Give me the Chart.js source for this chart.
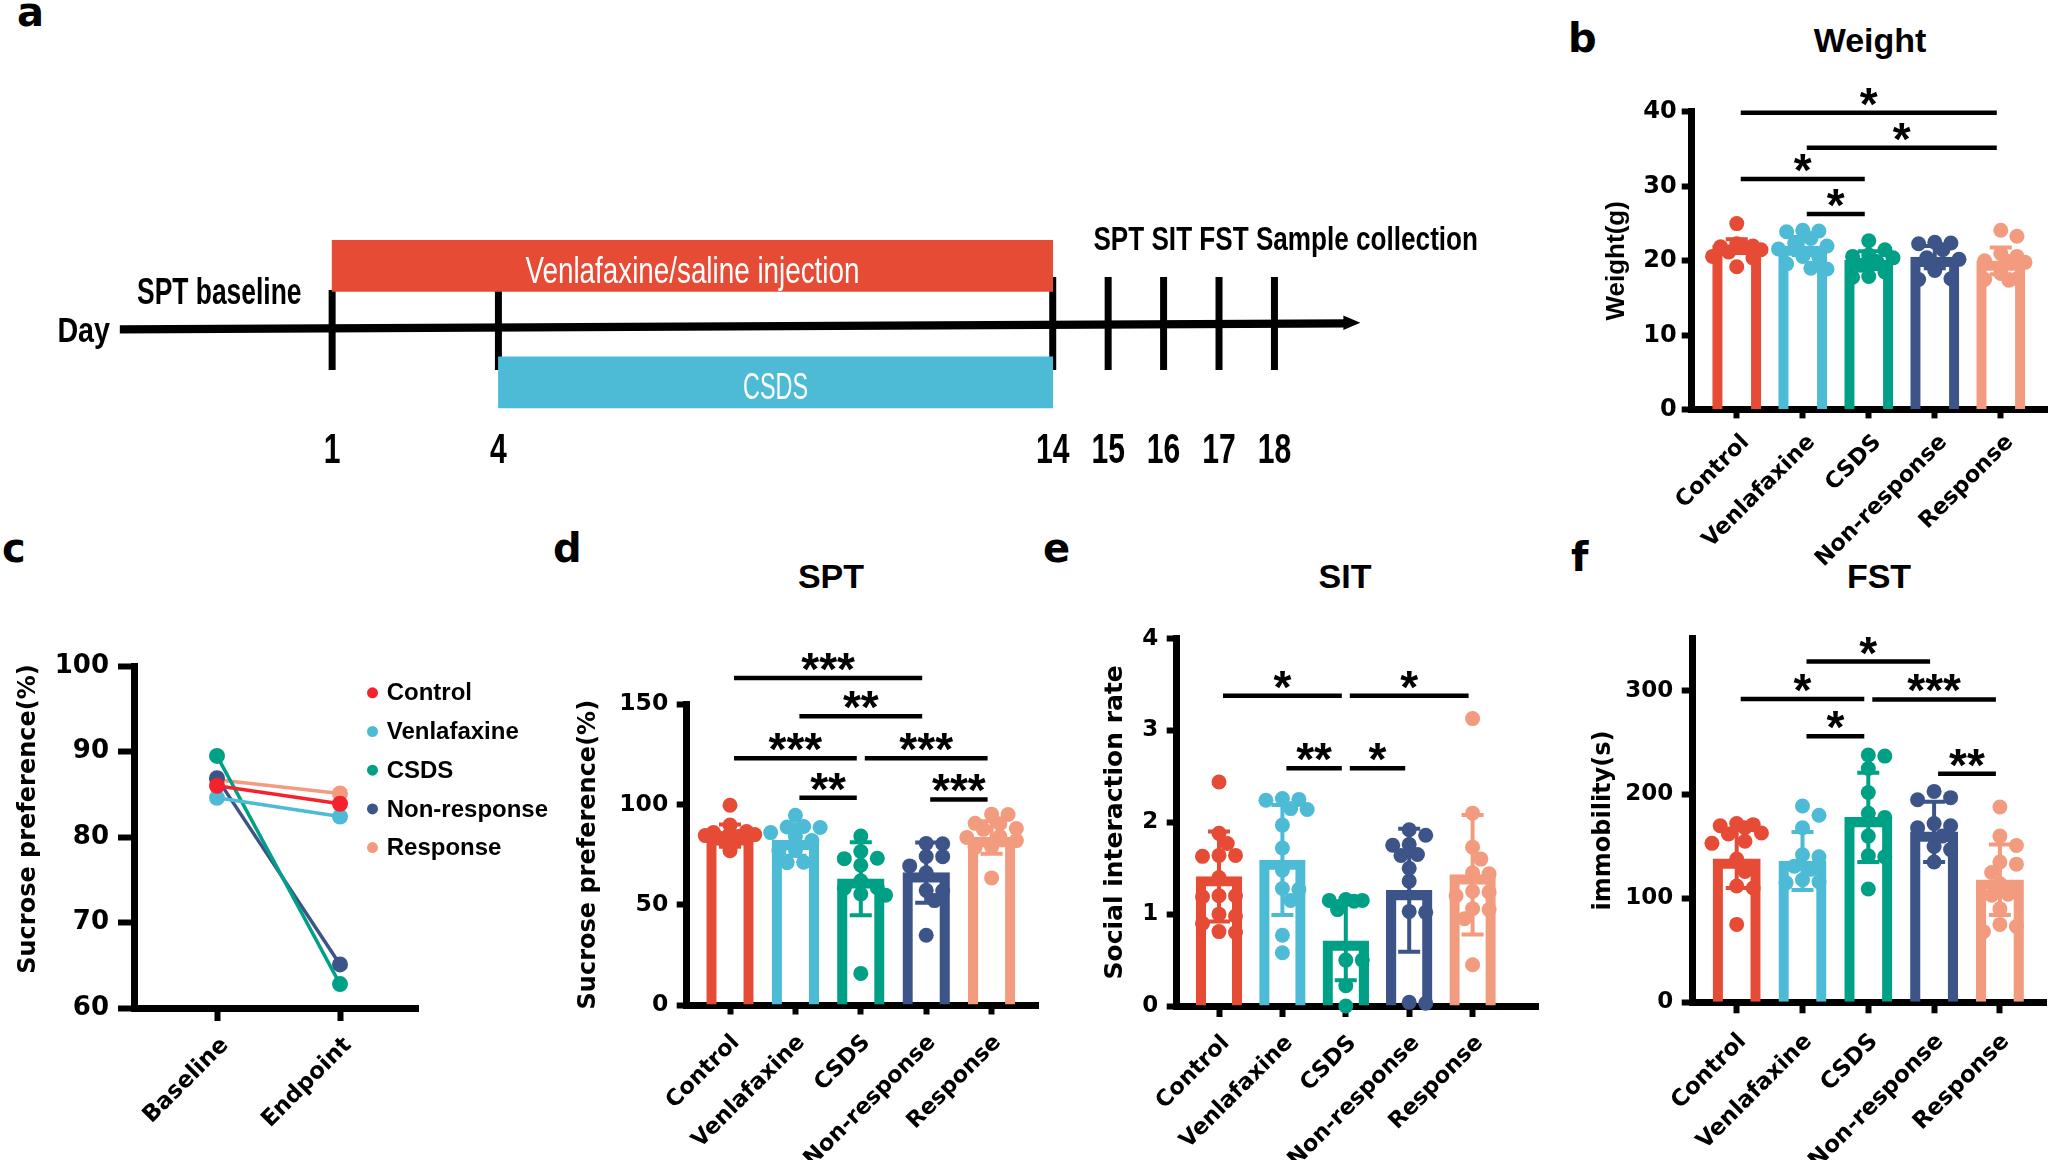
<!DOCTYPE html>
<html><head><meta charset="utf-8">
<script src="https://cdn.jsdelivr.net/npm/chart.js@4.4.1/dist/chart.umd.min.js"></script>
<style>
html,body{margin:0;padding:0;background:#fff;}
body{width:2055px;height:1162px;position:relative;overflow:hidden;}
canvas{position:absolute;}
.lbl{position:absolute;font-family:'DejaVu Sans',sans-serif;font-weight:bold;font-size:40px;line-height:1;white-space:nowrap;color:#000;}
.ttl{position:absolute;font-family:'Liberation Sans',Arial,sans-serif;font-weight:bold;font-size:34px;line-height:1;white-space:nowrap;color:#000;transform:translateX(-50%);}
</style></head>
<body>
<div class="lbl" style="left:17px;top:-8px">a</div>
<div class="lbl" style="left:1568px;top:18px">b</div>
<div class="lbl" style="left:2px;top:528px">c</div>
<div class="lbl" style="left:553px;top:528px">d</div>
<div class="lbl" style="left:1043px;top:528px">e</div>
<div class="lbl" style="left:1571px;top:537px">f</div>
<div class="ttl" style="left:1870px;top:23px">Weight</div>
<div class="ttl" style="left:831px;top:559px">SPT</div>
<div class="ttl" style="left:1345px;top:559px">SIT</div>
<div class="ttl" style="left:1879px;top:559px">FST</div>
<canvas id="ca"></canvas><canvas id="cb"></canvas><canvas id="cc"></canvas>
<canvas id="cd"></canvas><canvas id="ce"></canvas><canvas id="cf"></canvas>
<script>
// ================= DATA =================
const groups = ['Control', 'Venlafaxine', 'CSDS', 'Non-response', 'Response'];

// panel a : timeline (days)
const phases = ['Venlafaxine/saline injection', 'CSDS'];
const phaseStart = [1, 4];
const phaseEnd = [14, 14];
const dayTicks = [1, 4, 14, 15, 16, 17, 18];
const axisDays = [-2.83, 19.55];
const timelineNotes = ['Day', 'SPT baseline', 'SPT SIT FST Sample collection'];

// panel b : Weight
const weightMean = [22.1, 22.0, 20.1, 20.5, 20.0];
const weightSD = [0.8, 1.2, 1.2, 1.5, 1.8];
const weightPts = [
  [25.0, 22.3, 22.0, 21.9, 21.8, 21.5, 21.2, 20.6, 20.4, 19.2],
  [24.1, 24.0, 23.9, 23.0, 22.4, 22.0, 21.6, 20.6, 20.5, 19.6, 19.0, 18.9],
  [22.7, 21.5, 20.8, 20.6, 20.4, 19.9, 19.4, 18.5, 17.9, 17.8],
  [22.5, 22.4, 22.3, 21.5, 20.4, 20.2, 18.7, 17.6, 17.5],
  [24.1, 23.3, 21.0, 20.6, 20.0, 19.9, 19.8, 18.3, 17.6, 17.5, 17.4]
];
const weightSig = [[0, 4, 39.9, '*'], [1, 4, 35.2, '*'], [0, 2, 31.0, '*'], [1, 2, 26.3, '*']];
const weightTicks = [0, 10, 20, 30, 40];

// panel c : sucrose preference baseline vs endpoint
const timePoints = ['Baseline', 'Endpoint'];
const spBaseline = [86.0, 84.6, 89.5, 86.9, 86.7];
const spEndpoint = [83.9, 82.4, 62.8, 65.1, 85.1];
const spLineTicks = [60, 70, 80, 90, 100];

// panel d : SPT
const sptMean = [84.5, 82.2, 63.0, 66.0, 83.6];
const sptSD = [5.5, 7.8, 18.2, 15.0, 8.1];
const sptPts = [
  [99.6, 89.8, 86.5, 86.0, 85.5, 85.0, 84.5, 84.0, 83.0, 77.0],
  [94.6, 89.0, 88.8, 88.5, 86.0, 84.0, 82.0, 77.2, 77.0, 71.0, 71.2],
  [84.3, 76.6, 73.2, 73.0, 69.7, 62.0, 58.5, 58.3, 55.4, 54.8, 15.8],
  [80.6, 80.4, 74.1, 74.0, 69.4, 66.0, 57.2, 57.0, 52.1, 34.8],
  [95.2, 95.0, 90.6, 90.4, 88.0, 87.6, 84.0, 83.6, 82.0, 79.0, 78.6, 63.4]
];
const sptSig = [[0, 3, 163, '***'], [1, 3, 144, '**'], [0, 2, 123, '***'], [2, 4, 123, '***'], [1, 2, 103.4, '**'], [3, 4, 102.5, '***']];
const sptTicks = [0, 50, 100, 150];

// panel e : SIT
const sitMean = [1.41, 1.59, 0.71, 1.26, 1.43];
const sitSD = [0.49, 0.60, 0.43, 0.67, 0.65];
const sitPts = [
  [2.44, 1.88, 1.77, 1.64, 1.64, 1.63, 1.40, 1.20, 1.19, 1.20, 1.00, 0.98, 0.90, 0.80, 0.81],
  [2.26, 2.25, 2.24, 2.15, 2.14, 1.97, 1.72, 1.48, 1.28, 1.27, 1.15, 0.77, 0.58],
  [1.16, 1.15, 1.14, 1.15, 1.05, 0.50, 0.50, 0.22, 0.00],
  [1.92, 1.86, 1.76, 1.75, 1.65, 1.64, 1.50, 1.36, 1.03, 1.02, 0.04, 0.03],
  [3.13, 2.10, 1.73, 1.60, 1.45, 1.44, 1.25, 1.24, 1.20, 1.06, 1.05, 0.95, 0.45]
];
const sitSig = [[0, 2, 3.38, '*'], [2, 4, 3.38, '*'], [1, 2, 2.59, '**'], [2, 3, 2.59, '*']];
const sitTicks = [0, 1, 2, 3, 4];

// panel f : FST
const fstMean = [138, 136, 178, 164, 118];
const fstSD = [28, 28, 43, 29, 34];
const fstPts = [
  [172, 170, 168, 171, 162, 163, 155, 153, 138, 126, 112, 110, 75],
  [189, 180, 168, 142, 140, 131, 128, 118, 116, 115],
  [238, 237, 225, 202, 182, 178, 160, 141, 140, 109],
  [203, 197, 195, 172, 170, 168, 160, 150, 147, 135],
  [188, 160, 151, 135, 133, 125, 114, 104, 103, 90, 75, 73, 68]
];
const fstSig = [[1, 3, 328, '*'], [0, 2, 292, '*'], [2, 4, 291.5, '***'], [1, 2, 256, '*'], [3, 4, 220, '**']];
const fstTicks = [0, 100, 200, 300];

// ================= STYLE / LAYOUT =================
const COLORS = ['#E64B35', '#4DBBD5', '#00A087', '#3C5488', '#F39B7F'];
const LINE_COLORS = ['#F5222D', '#4DBBD5', '#00A087', '#3C5488', '#F39B7F'];
const SANS = "'Liberation Sans', Arial, sans-serif";
const NARROW = "'Liberation Sans Narrow', 'Liberation Sans', Arial, sans-serif";
const WIDE = "'DejaVu Sans', sans-serif";
Chart.defaults.font.family = SANS;
Chart.defaults.color = '#000';

function setupCanvas(id, r) {
  const c = document.getElementById(id);
  c.width = r.width; c.height = r.height;
  c.style.left = r.left + 'px'; c.style.top = r.top + 'px';
  c.style.width = r.width + 'px'; c.style.height = r.height + 'px';
  return c;
}

function swarmOffsets(values, pxY, pxX, r) {
  const idx = values.map((_, i) => i).sort((a, b) => values[b] - values[a]);
  const placed = []; const out = new Array(values.length).fill(0);
  const step = r * 1.1, minD = r * 1.7;
  idx.forEach(i => {
    const y = values[i] * pxY; let best = 0, bestD = -1;
    for (let k = 0; k < 7; k++) {
      const c = k === 0 ? 0 : (k % 2 === 1 ? 1 : -1) * Math.ceil(k / 2) * step;
      let d = Infinity;
      placed.forEach(p => { d = Math.min(d, Math.hypot(p.x - c, p.y - y)); });
      if (d >= minD) { best = c; break; }
      if (d > bestD) { bestD = d; best = c; }
    }
    placed.push({ x: best, y }); out[i] = best / pxX;
  });
  return out;
}

function starText(ctx, label, cx, cy, font) {
  ctx.font = font;
  const m = ctx.measureText(label);
  const A = m.actualBoundingBoxAscent, D = m.actualBoundingBoxDescent;
  ctx.textAlign = 'center'; ctx.textBaseline = 'alphabetic';
  ctx.fillText(label, cx, cy + (A - D) / 2);
}

function barPanel(L, D) {
  const r = L.rect;
  const right = r.left + r.width, bottom = r.top + r.height;
  const a = L.area;
  const xMin = (a.left - L.firstX) / L.step, xMax = (a.right - L.firstX) / L.step;
  const pxY = (a.bottom - a.top) / (D.yMax - D.yMin);
  const canvas = setupCanvas(L.id, r);
  const scatterSets = D.pts.map((arr, g) => {
    const offs = swarmOffsets(arr, pxY, L.step, L.dotR);
    return {
      type: 'scatter', order: 1, clip: false,
      data: arr.map((v, k) => ({ x: g + offs[k], y: v })),
      pointRadius: L.dotR, pointHoverRadius: L.dotR, pointBorderWidth: 0,
      pointBackgroundColor: COLORS[g], backgroundColor: COLORS[g]
    };
  });
  const plugin = {
    id: 'gp_' + L.id,
    afterDatasetsDraw(chart) {
      const { ctx, scales: { x, y } } = chart;
      ctx.save(); ctx.lineWidth = 4; ctx.lineCap = 'butt';
      D.mean.forEach((m, i) => {
        const px = x.getPixelForValue(i);
        const t = y.getPixelForValue(m + D.sd[i]), b = y.getPixelForValue(m - D.sd[i]);
        const hw = L.capW / 2;
        ctx.strokeStyle = COLORS[i];
        ctx.beginPath();
        ctx.moveTo(px, t); ctx.lineTo(px, b);
        ctx.moveTo(px - hw, t); ctx.lineTo(px + hw, t);
        ctx.moveTo(px - hw, b); ctx.lineTo(px + hw, b);
        ctx.stroke();
      });
      ctx.restore();
    },
    afterDraw(chart) {
      const { ctx, scales: { x, y } } = chart;
      ctx.save(); ctx.fillStyle = '#000'; ctx.strokeStyle = '#000'; ctx.lineWidth = 4.5;
      D.sig.forEach(([i, j, v, lab]) => {
        const x1 = x.getPixelForValue(i) + 4, x2 = x.getPixelForValue(j) - 4;
        const py = y.getPixelForValue(v);
        ctx.beginPath(); ctx.moveTo(x1, py); ctx.lineTo(x2, py); ctx.stroke();
        starText(ctx, lab, (x1 + x2) / 2, py - 16, 'bold 46px ' + SANS);
      });
      ctx.restore();
    }
  };
  return new Chart(canvas, {
    type: 'bar',
    data: {
      datasets: [{
        type: 'bar', order: 2,
        data: D.mean.map((m, i) => ({ x: i, y: m })),
        backgroundColor: 'rgba(0,0,0,0)', borderColor: COLORS,
        borderWidth: 9.5, borderSkipped: 'start', barThickness: L.barW
      }, ...scatterSets]
    },
    options: {
      responsive: false, animation: false, events: [],
      layout: { padding: { top: a.top - r.top, right: right - a.right, left: 0, bottom: 0 } },
      plugins: { legend: { display: false }, tooltip: { enabled: false } },
      scales: {
        x: {
          type: 'linear', min: xMin, max: xMax, offset: false, z: 1,
          afterBuildTicks: s => { s.ticks = groups.map((_, i) => ({ value: i })); },
          afterFit: s => { s.height = bottom - a.bottom; },
          grid: { display: true, drawOnChartArea: false, drawTicks: true, offset: false, tickLength: L.xTl, tickWidth: 6, tickColor: '#000' },
          border: { display: true, color: '#000', width: 7 },
          ticks: {
            autoSkip: false, maxRotation: 45, minRotation: 45, padding: L.xPad, labelOffset: L.xOff,
            font: { family: WIDE, weight: 'bold', size: L.xFont }, color: '#000',
            callback: v => groups[v]
          }
        },
        y: {
          type: 'linear', min: D.yMin, max: D.yMax, z: 1,
          afterBuildTicks: s => { s.ticks = D.ticks.map(v => ({ value: v })); },
          afterFit: s => { s.width = a.left - r.left; },
          grid: { display: true, drawOnChartArea: false, drawTicks: true, tickLength: L.yTl, tickWidth: 6, tickColor: '#000' },
          border: { display: true, color: '#000', width: 7 },
          ticks: { padding: L.yPad, font: { family: WIDE, weight: 'bold', size: L.yFont }, color: '#000' },
          title: {
            display: true, text: D.title, color: '#000',
            font: { family: L.titleFamily, weight: 'bold', size: L.titleSize },
            padding: { top: L.titleX - r.left - L.titleSize * 0.6, bottom: 0 }
          }
        }
      }
    },
    plugins: [plugin]
  });
}

// ---------- panel a ----------
(function () {
  const r = { left: 0, top: 0, width: 1540, height: 500 };
  const dayPx0 = 276.7, dayStep = 55.43;         // pixel of day 0, px per day
  const laneTop = 207.55, laneBottom = 440.55;
  const canvas = setupCanvas('ca', r);
  function fitText(ctx, text, x, y, font, width, align, color) {
    ctx.font = font; ctx.fillStyle = color; ctx.textBaseline = 'alphabetic';
    const w = ctx.measureText(text).width;
    ctx.save(); ctx.translate(x, y); ctx.scale(width / w, 1);
    ctx.textAlign = align; ctx.fillText(text, 0, 0); ctx.restore();
  }
  const tl = {
    id: 'timeline',
    beforeDatasetsDraw(chart) {
      const { ctx, scales: { x } } = chart;
      ctx.save(); ctx.strokeStyle = '#000'; ctx.fillStyle = '#000';
      ctx.lineWidth = 7;
      dayTicks.forEach(d => {
        const px = x.getPixelForValue(d);
        const top = phaseStart.includes(d) ? 290 : 277;
        ctx.beginPath(); ctx.moveTo(px, top); ctx.lineTo(px, 370); ctx.stroke();
      });
      const x0 = x.getPixelForValue(axisDays[0]), x1 = x.getPixelForValue(axisDays[1]);
      ctx.lineWidth = 8.3;
      ctx.beginPath(); ctx.moveTo(x0, 329.3); ctx.lineTo(x1 - 12, 323.3); ctx.stroke();
      ctx.beginPath(); ctx.moveTo(x1, 322.7); ctx.lineTo(x1 - 17, 315.5); ctx.lineTo(x1 - 17, 330); ctx.closePath(); ctx.fill();
      ctx.restore();
    },
    afterDatasetsDraw(chart) {
      const { ctx, scales: { x, y } } = chart;
      ctx.save();
      phases.forEach((p, i) => {
        const cx = (x.getPixelForValue(phaseStart[i]) + x.getPixelForValue(phaseEnd[i])) / 2;
        const cy = y.getPixelForValue(i);
        fitText(ctx, p, cx, cy + 17, '37px ' + NARROW, i === 0 ? 334 : 65, 'center', '#fff');
      });
      ctx.font = 'bold 42px ' + NARROW;
      const s = 33.5 / ctx.measureText('14').width;
      dayTicks.forEach(d => {
        const px = x.getPixelForValue(d);
        ctx.save(); ctx.translate(px, 463.3); ctx.scale(s, 1);
        ctx.textAlign = 'center'; ctx.fillStyle = '#000'; ctx.fillText(String(d), 0, 0); ctx.restore();
      });
      fitText(ctx, timelineNotes[0], 57.4, 341.7, 'bold 35px ' + NARROW, 52.6, 'left', '#000');
      fitText(ctx, timelineNotes[1], 137, 304, 'bold 36px ' + NARROW, 164.5, 'left', '#000');
      fitText(ctx, timelineNotes[2], 1093.4, 250, 'bold 33px ' + NARROW, 384.6, 'left', '#000');
      ctx.restore();
    }
  };
  new Chart(canvas, {
    type: 'bar',
    data: {
      labels: phases,
      datasets: [{
        data: phases.map((p, i) => [phaseStart[i], phaseEnd[i]]),
        backgroundColor: [COLORS[0], COLORS[1]], borderWidth: 0, borderSkipped: false, barThickness: 51
      }]
    },
    options: {
      indexAxis: 'y', responsive: false, animation: false, events: [],
      layout: { padding: { top: laneTop, bottom: r.height - laneBottom, left: 0, right: 0 } },
      plugins: { legend: { display: false }, tooltip: { enabled: false } },
      scales: {
        x: { type: 'linear', display: false, min: (0 - dayPx0) / dayStep, max: (r.width - dayPx0) / dayStep },
        y: { type: 'category', display: false, offset: true }
      }
    },
    plugins: [tl]
  });
})();

// ---------- panel c ----------
(function () {
  const r = { left: 0, top: 600, width: 560, height: 540 };
  const a = { left: 134, right: 418.5, top: 666.2, bottom: 1008 };
  const firstX = 217, step = 123;
  const bottom = r.top + r.height, right = r.left + r.width;
  const yTitle = { text: 'Sucrose preference(%)', x: 28.6, y: 819, size: 24 };
  const canvas = setupCanvas('cc', r);
  const legend = {
    id: 'legendC',
    afterDraw(chart) {
      const ctx = chart.ctx;
      ctx.save();
      ctx.font = 'bold 24px ' + SANS; ctx.textBaseline = 'middle'; ctx.textAlign = 'left';
      chart.data.datasets.forEach((ds, i) => {
        const yy = 692.8 - r.top + i * 38.7;
        ctx.fillStyle = ds.borderColor;
        ctx.beginPath(); ctx.arc(372.5 - r.left, yy, 5.5, 0, Math.PI * 2); ctx.fill();
        ctx.fillStyle = '#000';
        ctx.fillText(ds.label, 386.7 - r.left, yy + 1);
      });
      // y-axis title
      ctx.translate(yTitle.x - r.left, yTitle.y - r.top);
      ctx.rotate(-Math.PI / 2);
      ctx.font = 'bold ' + yTitle.size + 'px ' + WIDE;
      ctx.textAlign = 'center'; ctx.textBaseline = 'middle'; ctx.fillStyle = '#000';
      ctx.fillText(yTitle.text, 0, 0);
      ctx.restore();
    }
  };
  new Chart(canvas, {
    type: 'line',
    data: {
      datasets: groups.map((g, i) => ({
        label: g,
        data: [{ x: 0, y: spBaseline[i] }, { x: 1, y: spEndpoint[i] }],
        borderColor: LINE_COLORS[i], backgroundColor: LINE_COLORS[i],
        pointBackgroundColor: LINE_COLORS[i], pointBorderWidth: 0,
        pointRadius: 8, pointHoverRadius: 8, borderWidth: 3.5, clip: false
      }))
    },
    options: {
      responsive: false, animation: false, events: [],
      layout: { padding: { top: a.top - r.top, right: right - a.right, left: 0, bottom: 0 } },
      plugins: { legend: { display: false }, tooltip: { enabled: false } },
      scales: {
        x: {
          type: 'linear', min: (a.left - firstX) / step, max: (a.right - firstX) / step, offset: false,
          afterBuildTicks: s => { s.ticks = timePoints.map((_, i) => ({ value: i })); },
          afterFit: s => { s.height = bottom - a.bottom; },
          grid: { display: true, drawOnChartArea: false, drawTicks: true, tickLength: 13, tickWidth: 6, tickColor: '#000' },
          border: { display: true, color: '#000', width: 7 },
          ticks: {
            autoSkip: false, maxRotation: 45, minRotation: 45, padding: 11, labelOffset: 8,
            font: { family: WIDE, weight: 'bold', size: 23 }, color: '#000',
            callback: v => timePoints[v]
          }
        },
        y: {
          type: 'linear', min: 60, max: 100,
          afterBuildTicks: s => { s.ticks = spLineTicks.map(v => ({ value: v })); },
          afterFit: s => { s.width = a.left - r.left; },
          grid: { display: true, drawOnChartArea: false, drawTicks: true, tickLength: 16, tickWidth: 6, tickColor: '#000' },
          border: { display: true, color: '#000', width: 7 },
          ticks: { padding: 9, font: { family: WIDE, weight: 'bold', size: 26 }, color: '#000' },
          title: { display: false }
        }
      }
    },
    plugins: [legend]
  });
})();

// ---------- panels b, d, e, f ----------
barPanel(
  { id: 'cb', rect: { left: 1560, top: 60, width: 495, height: 510 },
    area: { left: 1691.7, right: 2055, top: 111.9, bottom: 409.8 },
    firstX: 1737.7, step: 67.4, barW: 48.3, dotR: 7.5, capW: 22,
    xTl: 8.6, xPad: 11, xOff: 9, xFont: 22.5, yTl: 10, yPad: 5, yFont: 24,
    titleX: 1616.7, titleSize: 26, titleFamily: SANS },
  { mean: weightMean, sd: weightSD, pts: weightPts, sig: weightSig, ticks: weightTicks, yMin: 0, yMax: 40, title: 'Weight(g)' });

barPanel(
  { id: 'cd', rect: { left: 545, top: 600, width: 510, height: 560 },
    area: { left: 686.7, right: 1038.3, top: 704.2, bottom: 1005.1 },
    firstX: 730, step: 65.4, barW: 46.7, dotR: 7.5, capW: 22,
    xTl: 9.4, xPad: 15, xOff: 6, xFont: 22.5, yTl: 10, yPad: 8.4, yFont: 23.5,
    titleX: 588.3, titleSize: 24, titleFamily: WIDE },
  { mean: sptMean, sd: sptSD, pts: sptPts, sig: sptSig, ticks: sptTicks, yMin: 0, yMax: 150, title: 'Sucrose preference(%)' });

barPanel(
  { id: 'ce', rect: { left: 1060, top: 600, width: 495, height: 560 },
    area: { left: 1176.7, right: 1538.3, top: 638.7, bottom: 1006 },
    firstX: 1219, step: 63.4, barW: 45.7, dotR: 7.5, capW: 22,
    xTl: 11, xPad: 13, xOff: 7, xFont: 22.5, yTl: 10, yPad: 8.4, yFont: 23,
    titleX: 1115, titleSize: 25, titleFamily: WIDE },
  { mean: sitMean, sd: sitSD, pts: sitPts, sig: sitSig, ticks: sitTicks, yMin: 0, yMax: 4, title: 'Social interaction rate' });

barPanel(
  { id: 'cf', rect: { left: 1560, top: 600, width: 495, height: 560 },
    area: { left: 1692.7, right: 2046.7, top: 638.7, bottom: 1002.3 },
    firstX: 1736.7, step: 65.8, barW: 47.3, dotR: 7.5, capW: 22,
    xTl: 11, xPad: 15, xOff: 6, xFont: 23, yTl: 11, yPad: 8.4, yFont: 23,
    titleX: 1604, titleSize: 24, titleFamily: WIDE },
  { mean: fstMean, sd: fstSD, pts: fstPts, sig: fstSig, ticks: fstTicks, yMin: 0, yMax: 350, title: 'immobility(s)' });
</script>
</body></html>
